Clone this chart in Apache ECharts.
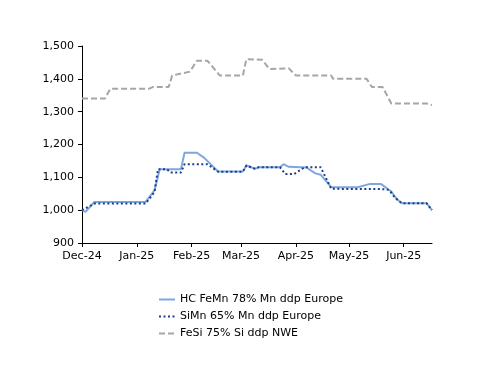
<!DOCTYPE html>
<html>
<head>
<meta charset="utf-8">
<script src="https://cdn.jsdelivr.net/npm/echarts@6/dist/echarts.min.js"></script>
<style>html,body{margin:0;padding:0;background:#fff}#c{width:500px;height:386px}</style>
</head>
<body>
<div id="c"></div>
<script>
// ---- data ----
var seriesNames = ['HC FeMn 78% Mn ddp Europe', 'SiMn 65% Mn ddp Europe', 'FeSi 75% Si ddp NWE'];

var hcDates = ['2024-12-01','2024-12-03','2024-12-08','2025-01-06','2025-01-11','2025-01-14','2025-01-26','2025-01-28','2025-02-04','2025-02-08','2025-02-16','2025-03-02','2025-03-04','2025-03-09','2025-03-11','2025-03-23','2025-03-25','2025-03-28','2025-04-07','2025-04-12','2025-04-15','2025-04-21','2025-05-06','2025-05-13','2025-05-19','2025-05-20','2025-05-25','2025-05-28','2025-05-31','2025-06-14','2025-06-17'];
var hcValues = [1000,995,1025,1025,1060,1125,1125,1175,1175,1160,1118,1118,1136,1126,1131,1131,1140,1132,1130,1112,1108,1070,1070,1080,1080,1085,1057,1034,1021,1021,1000];

var simnDates = ['2024-12-01','2024-12-08','2025-01-06','2025-01-11','2025-01-13','2025-01-18','2025-01-20','2025-01-26','2025-01-28','2025-02-10','2025-02-16','2025-03-02','2025-03-04','2025-03-09','2025-03-11','2025-03-23','2025-03-26','2025-03-31','2025-04-06','2025-04-15','2025-04-21','2025-05-22','2025-05-24','2025-05-27','2025-05-31','2025-06-14','2025-06-17'];
var simnValues = [1000,1020,1020,1055,1125,1125,1115,1115,1140,1140,1117,1117,1136,1126,1131,1131,1110,1110,1131,1131,1065,1064,1060,1038,1021,1021,1000];

var fesiDates = ['2024-12-01','2024-12-14','2024-12-17','2025-01-08','2025-01-10','2025-01-19','2025-01-21','2025-01-31','2025-02-04','2025-02-10','2025-02-17','2025-03-02','2025-03-04','2025-03-13','2025-03-17','2025-03-28','2025-04-01','2025-04-21','2025-04-22','2025-05-11','2025-05-14','2025-05-20','2025-05-25','2025-06-14','2025-06-17'];
var fesiValues = [1340,1340,1370,1370,1375,1375,1410,1422,1455,1455,1410,1410,1460,1458,1430,1432,1410,1410,1400,1400,1375,1375,1325,1325,1320];

var tickDates = ['2024-12-01','2025-01-01','2025-02-01','2025-03-01','2025-04-01','2025-05-01','2025-06-01'];
var tickLabels = ['Dec-24','Jan-25','Feb-25','Mar-25','Apr-25','May-25','Jun-25'];
var xMinDate = '2024-12-01', xMaxDate = '2025-06-17';
var yMin = 900, yMax = 1500, yStep = 100;

// ---- build ----
function ts(s){ var p = s.split('-'); return new Date(+p[0], +p[1]-1, +p[2]).getTime(); }
function pairs(d, v){ return d.map(function(x,i){ return [ts(x), v[i]]; }); }
var tickTs = tickDates.map(ts);
var labelMap = {}; tickTs.forEach(function(t,i){ labelMap[t] = tickLabels[i]; });

var font = 'DejaVu Sans';
var chart = echarts.init(document.getElementById('c'), null, {renderer:'canvas'});
chart.setOption({
  animation: false,
  backgroundColor: '#fff',
  textStyle: {fontFamily: font},
  grid: {left: 82, right: 68, top: 46, bottom: 143, containLabel: false},
  xAxis: {
    type: 'value', min: ts(xMinDate), max: ts(xMaxDate),
    axisLine: {show: true, lineStyle: {color: '#000', width: 1}},
    axisTick: {show: true, length: 4, lineStyle: {color: '#000'}, customValues: tickTs},
    axisLabel: {color: '#000', fontSize: 11, fontFamily: font, margin: 8, customValues: tickTs,
      formatter: function(v){ return labelMap[v] !== undefined ? labelMap[v] : ''; }},
    splitLine: {show: false}
  },
  yAxis: {
    type: 'value', min: yMin, max: yMax, interval: yStep,
    axisLine: {show: true, lineStyle: {color: '#000', width: 1}},
    axisTick: {show: true, length: 4, lineStyle: {color: '#000'}},
    axisLabel: {color: '#000', fontSize: 11, fontFamily: font, margin: 8,
      formatter: function(v){ return v.toLocaleString('en-US'); }},
    splitLine: {show: false}
  },
  legend: {
    orient: 'vertical', left: 153, top: 289, itemWidth: 16, itemHeight: 8, itemGap: 6,
    itemStyle: {opacity: 0},
    textStyle: {color: '#000', fontSize: 11, fontFamily: font},
    data: seriesNames
  },
  series: [
    {name: seriesNames[0], type: 'line', symbol: 'none', data: pairs(hcDates, hcValues),
     lineStyle: {color: '#7ea7dd', width: 2}, itemStyle: {color: '#7ea7dd'}},
    {name: seriesNames[1], type: 'line', symbol: 'none', data: pairs(simnDates, simnValues),
     lineStyle: {color: '#1c3d8c', width: 2, type: [2, 2.5]}, itemStyle: {color: '#1c3d8c'}},
    {name: seriesNames[2], type: 'line', symbol: 'none', data: pairs(fesiDates, fesiValues),
     lineStyle: {color: '#a6a6a6', width: 2, type: [6, 3]}, itemStyle: {color: '#a6a6a6'}}
  ]
});
</script>
</body>
</html>
